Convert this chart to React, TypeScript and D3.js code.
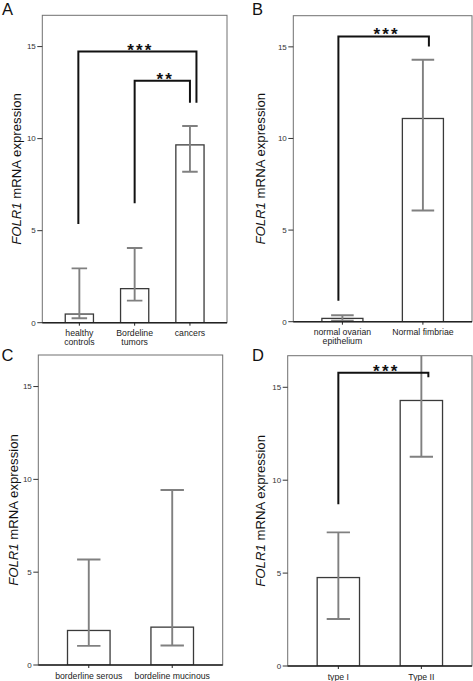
import React from "react";
import * as d3 from "d3";

// ---------- data ----------
const panelLetters = ["A", "B", "C", "D"];

const catsA = [["healthy", "controls"], ["Bordeline", "tumors"], ["cancers"]];
const meanA = [0.47, 1.85, 9.66];
const lowA = [0.24, 1.2, 8.2];
const highA = [2.95, 4.06, 10.69];

const catsB = [["normal ovarian", "epithelium"], ["Normal fimbriae"]];
const meanB = [0.18, 11.09];
const lowB = [0.05, 6.07];
const highB = [0.35, 14.3];

const catsC = [["borderline serous"], ["bordeline mucinous"]];
const meanC = [1.86, 2.04];
const lowC = [1.03, 1.05];
const highC = [5.68, 9.43];

const catsD = [["type I"], ["Type II"]];
const meanD = [4.76, 14.29];
const lowD = [2.53, 11.26];
const highD = [7.19, 17.3];

const yTicks = [0, 5, 10, 15];
const yMax = 16.7;

// significance brackets: from/to category index, heights in data units
const sigA = [
  { from: 0, to: 2, top: 14.73, fromEnd: 5.36, toEnd: 11.95, label: "***" },
  { from: 1, to: 2, top: 13.15, fromEnd: 6.49, toEnd: 11.95, label: "**" },
];
const sigB = [{ from: 0, to: 1, top: 15.57, fromEnd: 1.15, toEnd: 15.02, label: "***" }];
const sigC: any[] = [];
const sigD = [{ from: 0, to: 1, top: 15.78, fromEnd: 8.7, toEnd: 15.54, label: "***" }];

// ---------- layout ----------
const layouts = [
  { left: 42.3, right: 227, top: 15.3, bottom: 322.7, pad: 0.67, titleX: 20.5, letterX: 2, letterY: 15, bracketDx: [[-1, 6.5], [0, 0]] },
  { left: 293.3, right: 472, top: 15.7, bottom: 321.7, pad: 0.61, titleX: 265, letterX: 252, letterY: 15, bracketDx: [[-4, 6]] },
  { left: 38.3, right: 222.7, top: 355, bottom: 665, pad: 0.605, titleX: 17.7, letterX: 1.5, letterY: 361, bracketDx: [] },
  { left: 287.7, right: 472, top: 355.7, bottom: 666, pad: 0.61, titleX: 265, letterX: 252, letterY: 361, bracketDx: [[0, 7]] },
];

const panels = [
  { cats: catsA, mean: meanA, low: lowA, high: highA, sig: sigA },
  { cats: catsB, mean: meanB, low: lowB, high: highB, sig: sigB },
  { cats: catsC, mean: meanC, low: lowC, high: highC, sig: sigC },
  { cats: catsD, mean: meanD, low: lowD, high: highD, sig: sigD },
];

const FONT = "'Liberation Sans', Arial, Helvetica, sans-serif";

function Panel({ idx }: { idx: number }) {
  const p = panels[idx];
  const L = layouts[idx];
  const names = p.cats.map((c) => c.join(" "));
  const x = d3.scalePoint<string>().domain(names).range([L.left, L.right]).padding(L.pad);
  const step = x.step();
  const barW = step * 0.51;
  const capW = barW * 0.55;
  const y = d3.scaleLinear().domain([0, yMax]).range([L.bottom, L.top]);
  const clipId = `clip${idx}`;
  const midY = (L.top + L.bottom) / 2;

  return (
    <g>
      <defs>
        <clipPath id={clipId}>
          <rect x={L.left} y={L.top} width={L.right - L.left} height={L.bottom - L.top} />
        </clipPath>
      </defs>
      {/* panel letter */}
      <text x={L.letterX} y={L.letterY} fontFamily={FONT} fontSize={16.5} fill="#111">
        {panelLetters[idx]}
      </text>
      {/* y title */}
      <text
        transform={`translate(${L.titleX},${midY}) rotate(-90)`}
        textAnchor="middle"
        fontFamily={FONT}
        fontSize={13.2}
        fill="#111"
      >
        <tspan fontStyle="italic">FOLR1</tspan>
        <tspan> mRNA expression</tspan>
      </text>
      {/* frame */}
      <rect
        x={L.left}
        y={L.top}
        width={L.right - L.left}
        height={L.bottom - L.top}
        fill="white"
        stroke="#707070"
        strokeWidth={1}
      />
      {/* y ticks */}
      {yTicks.map((t) => (
        <g key={t}>
          <line x1={L.left - 5} x2={L.left} y1={y(t)} y2={y(t)} stroke="#333" strokeWidth={1} />
          <text
            x={L.left - 6.5}
            y={y(t) + 2.8}
            textAnchor="end"
            fontFamily={FONT}
            fontSize={8}
            fill="#333"
          >
            {t}
          </text>
        </g>
      ))}
      {/* bars */}
      <g clipPath={`url(#${clipId})`}>
        {names.map((n, i) => (
          <rect
            key={n}
            x={(x(n) as number) - barW / 2}
            y={y(p.mean[i])}
            width={barW}
            height={y(0) - y(p.mean[i])}
            fill="white"
            stroke="#3a3a3a"
            strokeWidth={1.3}
          />
        ))}
        {/* error bars */}
        {names.map((n, i) => {
          const cx = x(n) as number;
          return (
            <g key={"e" + n} stroke="#808080" strokeWidth={1.9}>
              <line x1={cx} x2={cx} y1={y(p.low[i])} y2={y(p.high[i])} />
              <line x1={cx - capW / 2} x2={cx + capW / 2} y1={y(p.high[i])} y2={y(p.high[i])} />
              <line x1={cx - capW / 2} x2={cx + capW / 2} y1={y(p.low[i])} y2={y(p.low[i])} />
            </g>
          );
        })}
        {/* significance brackets */}
        {p.sig.map((s: any, k: number) => {
          const dx = L.bracketDx[k] || [0, 0];
          const x1 = (x(names[s.from]) as number) + dx[0];
          const x2 = (x(names[s.to]) as number) + dx[1];
          const path = d3.path();
          path.moveTo(x1, y(s.fromEnd));
          path.lineTo(x1, y(s.top));
          path.lineTo(x2, y(s.top));
          path.lineTo(x2, y(s.toEnd));
          return (
            <g key={"s" + k}>
              <path d={path.toString()} fill="none" stroke="#111" strokeWidth={2} />
              <text
                x={(x1 + x2) / 2 + 3}
                y={y(s.top) - 5 + 9}
                textAnchor="middle"
                fontFamily={FONT}
                fontWeight="bold"
                fontSize={17}
                letterSpacing={2.2}
                fill="#111"
              >
                {s.label}
              </text>
            </g>
          );
        })}
      </g>
      {/* x axis */}
      <line x1={L.left} x2={L.right} y1={L.bottom} y2={L.bottom} stroke="#222" strokeWidth={1.4} />
      {p.cats.map((c, i) => {
        const cx = x(names[i]) as number;
        return (
          <g key={"x" + i}>
            <line x1={cx} x2={cx} y1={L.bottom} y2={L.bottom + 3} stroke="#222" strokeWidth={1} />
            {c.map((line, j) => (
              <text
                key={j}
                x={cx}
                y={L.bottom + 13.5 + j * 8.5}
                textAnchor="middle"
                fontFamily={FONT}
                fontSize={8.7}
                fill="#222"
              >
                {line}
              </text>
            ))}
          </g>
        );
      })}
    </g>
  );
}

export default function App() {
  return (
    <svg
      width={473}
      height={681}
      style={{ position: "absolute", left: 0, top: 0, background: "white" }}
    >
      <rect x={0} y={0} width={473} height={681} fill="white" />
      {panels.map((_, i) => (
        <Panel key={i} idx={i} />
      ))}
    </svg>
  );
}
